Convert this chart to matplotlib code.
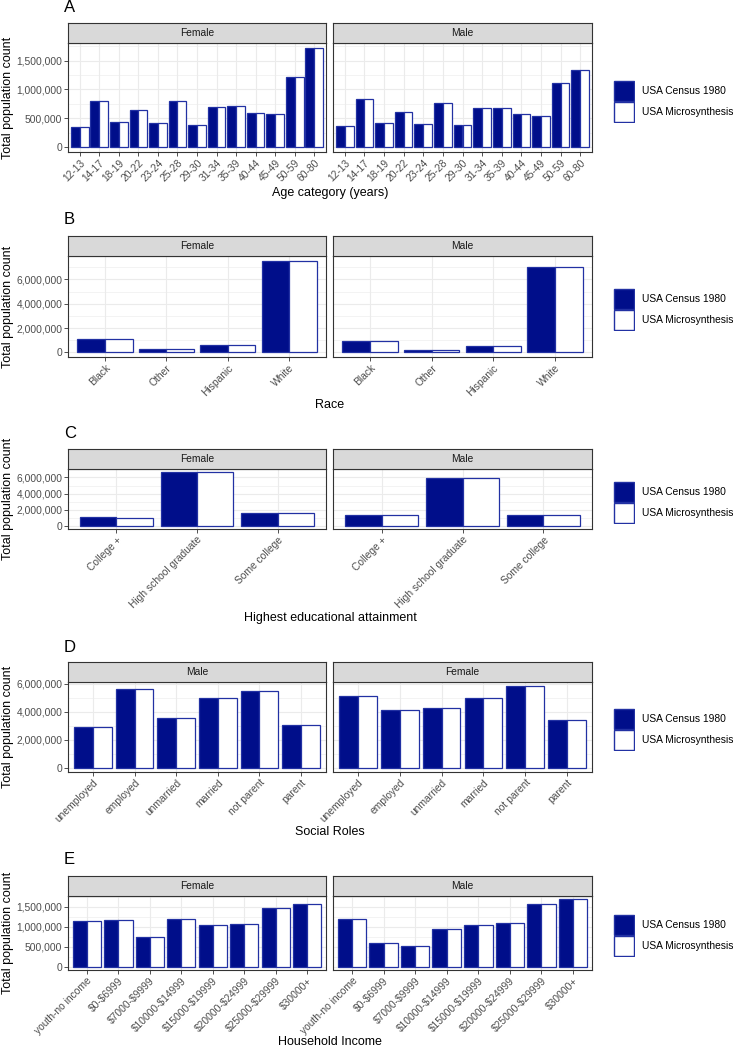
import matplotlib
matplotlib.use("Agg")
import matplotlib.pyplot as plt
from matplotlib.patches import Rectangle
from matplotlib.ticker import FuncFormatter, FixedLocator

plt.rcParams['font.family'] = ['Liberation Sans', 'DejaVu Sans']

# ---------------- data ----------------
series_names = ["USA Census 1980", "USA Microsynthesis"]

# A: age
age_cats = ["12-13", "14-17", "18-19", "20-22", "23-24", "25-28", "29-30",
            "31-34", "35-39", "40-44", "45-49", "50-59", "60-80"]
age_facets = ["Female", "Male"]
age_census_female = [356000, 793000, 431000, 649000, 420000, 793000, 385000,
                     695000, 707000, 598000, 569000, 1213000, 1718000]
age_micro_female = [356000, 793000, 431000, 649000, 420000, 793000, 385000,
                    695000, 707000, 598000, 569000, 1213000, 1718000]
age_census_male = [368000, 828000, 420000, 615000, 408000, 764000, 374000,
                   672000, 678000, 569000, 534000, 1103000, 1328000]
age_micro_male = [368000, 828000, 420000, 615000, 408000, 764000, 374000,
                  672000, 678000, 569000, 534000, 1103000, 1328000]
age_yticks = [0, 500000, 1000000, 1500000]

# B: race
race_cats = ["Black", "Other", "Hispanic", "White"]
race_facets = ["Female", "Male"]
race_census_female = [1070000, 250000, 580000, 7540000]
race_micro_female = [1070000, 240000, 570000, 7540000]
race_census_male = [910000, 220000, 550000, 7040000]
race_micro_male = [910000, 210000, 540000, 7040000]
race_yticks = [0, 2000000, 4000000, 6000000]

# C: education
edu_cats = ["College +", "High school graduate", "Some college"]
edu_facets = ["Female", "Male"]
edu_census_female = [1100000, 6690000, 1580000]
edu_micro_female = [1060000, 6690000, 1580000]
edu_census_male = [1380000, 5920000, 1380000]
edu_micro_male = [1360000, 5920000, 1380000]
edu_yticks = [0, 2000000, 4000000, 6000000]

# D: social roles (Male first)
role_cats = ["unemployed", "employed", "unmarried", "married", "not parent", "parent"]
role_facets = ["Male", "Female"]
role_census_male = [2930000, 5660000, 3600000, 5000000, 5510000, 3100000]
role_micro_male = [2930000, 5660000, 3600000, 5000000, 5510000, 3100000]
role_census_female = [5130000, 4160000, 4280000, 4980000, 5850000, 3460000]
role_micro_female = [5130000, 4160000, 4280000, 4980000, 5850000, 3460000]
role_yticks = [0, 2000000, 4000000, 6000000]

# E: household income
inc_cats = ["youth-no income", "$0-$6999", "$7000-$9999", "$10000-$14999",
            "$15000-$19999", "$20000-$24999", "$25000-$29999", "$30000+"]
inc_facets = ["Female", "Male"]
inc_census_female = [1145000, 1170000, 733000, 1178000, 1030000, 1054000, 1458000, 1557000]
inc_micro_female = [1145000, 1170000, 733000, 1178000, 1030000, 1054000, 1458000, 1557000]
inc_census_male = [1186000, 593000, 527000, 930000, 1046000, 1095000, 1573000, 1680000]
inc_micro_male = [1186000, 593000, 527000, 930000, 1046000, 1095000, 1573000, 1680000]
inc_yticks = [0, 500000, 1000000, 1500000]

# ---------------- style ----------------
W, H = 733, 1050
FILL = "#000E8A"
EDGE = "#2231A3"
GRID = "#EBEBEB"
BORDER = "#333333"
TICKC = "#4D4D4D"
STRIP = "#D9D9D9"
TICK_FS = 7.4
TITLE_FS = 9
TAG_FS = 12

fig = plt.figure(figsize=(W / 100, H / 100), dpi=100)
fig.patch.set_facecolor("white")


def fax(x0, y0, x1, y1):
    """pixel box (top-left origin) -> figure axes"""
    return fig.add_axes([x0 / W, 1 - y1 / H, (x1 - x0) / W, (y1 - y0) / H])


fmt = FuncFormatter(lambda v, p: f"{int(round(v)):,}")

panel_x = [(68, 326), (333, 592)]


def esc(s):
    return s.replace("$", r"\$")


def draw_panel(tag, tag_y, strip_top, strip_bot, plot_bot, facets, cats,
               census_list, micro_list, yticks, xlabel, xlabel_y, leg_top):
    ymax = max(max(c) for c in census_list + micro_list)
    ylim = (-0.05 * ymax, 1.05 * ymax)
    step = yticks[1] - yticks[0]
    minor = [t + step / 2 for t in [yticks[0] - step] + yticks]
    n = len(cats)
    xs = list(range(n))
    for i, (facet, cen, mic) in enumerate(zip(facets, census_list, micro_list)):
        x0, x1 = panel_x[i]
        ax = fax(x0, strip_bot, x1, plot_bot)
        ax.set_facecolor("white")
        ax.set_xlim(-0.6, n - 1 + 0.6)
        ax.set_ylim(*ylim)
        ax.yaxis.set_major_locator(FixedLocator(yticks))
        ax.yaxis.set_minor_locator(FixedLocator([m for m in minor if ylim[0] < m < ylim[1]]))
        ax.yaxis.set_major_formatter(fmt)
        ax.set_xticks(xs)
        ax.set_xticklabels([esc(c) for c in cats], rotation=45, ha="right", va="top",
                           rotation_mode="anchor", fontsize=TICK_FS, color=TICKC)
        ax.grid(True, which="major", color=GRID, linewidth=0.8, zorder=0)
        ax.grid(True, which="minor", axis="y", color=GRID, linewidth=0.4, zorder=0)
        ax.set_axisbelow(True)
        ax.tick_params(axis="both", which="major", length=2.8, width=0.6,
                       color=BORDER, labelsize=TICK_FS, labelcolor=TICKC, pad=1.3)
        ax.tick_params(axis="y", which="minor", length=0)
        if i > 0:
            ax.tick_params(axis="y", labelleft=False, length=0)
        for s in ax.spines.values():
            s.set_color(BORDER)
            s.set_linewidth(0.8)
        ax.bar([x - 0.225 for x in xs], cen, width=0.45, color=FILL,
               edgecolor=EDGE, linewidth=0.9, zorder=2)
        ax.bar([x + 0.225 for x in xs], mic, width=0.45, color="white",
               edgecolor=EDGE, linewidth=0.9, zorder=2)
        # strip
        sax = fax(x0, strip_top, x1, strip_bot)
        sax.set_facecolor(STRIP)
        sax.set_xticks([])
        sax.set_yticks([])
        for s in sax.spines.values():
            s.set_color(BORDER)
            s.set_linewidth(0.8)
        sax.text(0.5, 0.5, facet, ha="center", va="center", fontsize=TICK_FS,
                 color="#1A1A1A", transform=sax.transAxes)
    # tag
    fig.text(64 / W, 1 - tag_y / H, tag, fontsize=TAG_FS, ha="left", va="center")
    # axis titles
    fig.text(330 / W, 1 - xlabel_y / H, xlabel, fontsize=TITLE_FS, ha="center", va="center")
    fig.text(8.5 / W, 1 - ((strip_bot + plot_bot) / 2) / H, "Total population count",
             fontsize=TITLE_FS, rotation=90, ha="center", va="center")
    # legend
    kh = 21.5
    for j, (name, fc) in enumerate(zip(series_names, [FILL, "white"])):
        top = leg_top + j * kh
        kax = fax(613, top, 635, top + kh)
        kax.set_xlim(0, 1)
        kax.set_ylim(0, 1)
        kax.axis("off")
        kax.add_patch(Rectangle((0.04, 0.04), 0.92, 0.92, facecolor=fc,
                                edgecolor=EDGE, linewidth=1.0,
                                transform=kax.transAxes))
        fig.text(642 / W, 1 - (top + kh / 2) / H, name, fontsize=TICK_FS,
                 ha="left", va="center", color="black")


draw_panel("A", 8, 23, 43, 152, age_facets, age_cats,
           [age_census_female, age_census_male], [age_micro_female, age_micro_male],
           age_yticks, "Age category (years)", 193, 80)
draw_panel("B", 220, 236, 256, 357, race_facets, race_cats,
           [race_census_female, race_census_male], [race_micro_female, race_micro_male],
           race_yticks, "Race", 405, 288)
draw_panel("C", 434, 449, 469, 529, edu_facets, edu_cats,
           [edu_census_female, edu_census_male], [edu_micro_female, edu_micro_male],
           edu_yticks, "Highest educational attainment", 618, 481)
draw_panel("D", 647, 662, 682, 772, role_facets, role_cats,
           [role_census_male, role_census_female], [role_micro_male, role_micro_female],
           role_yticks, "Social Roles", 832, 708)
draw_panel("E", 860, 876, 896, 970, inc_facets, inc_cats,
           [inc_census_female, inc_census_male], [inc_micro_female, inc_micro_male],
           inc_yticks, "Household Income", 1042, 914)

fig.savefig("out.png", dpi=100, facecolor="white")
